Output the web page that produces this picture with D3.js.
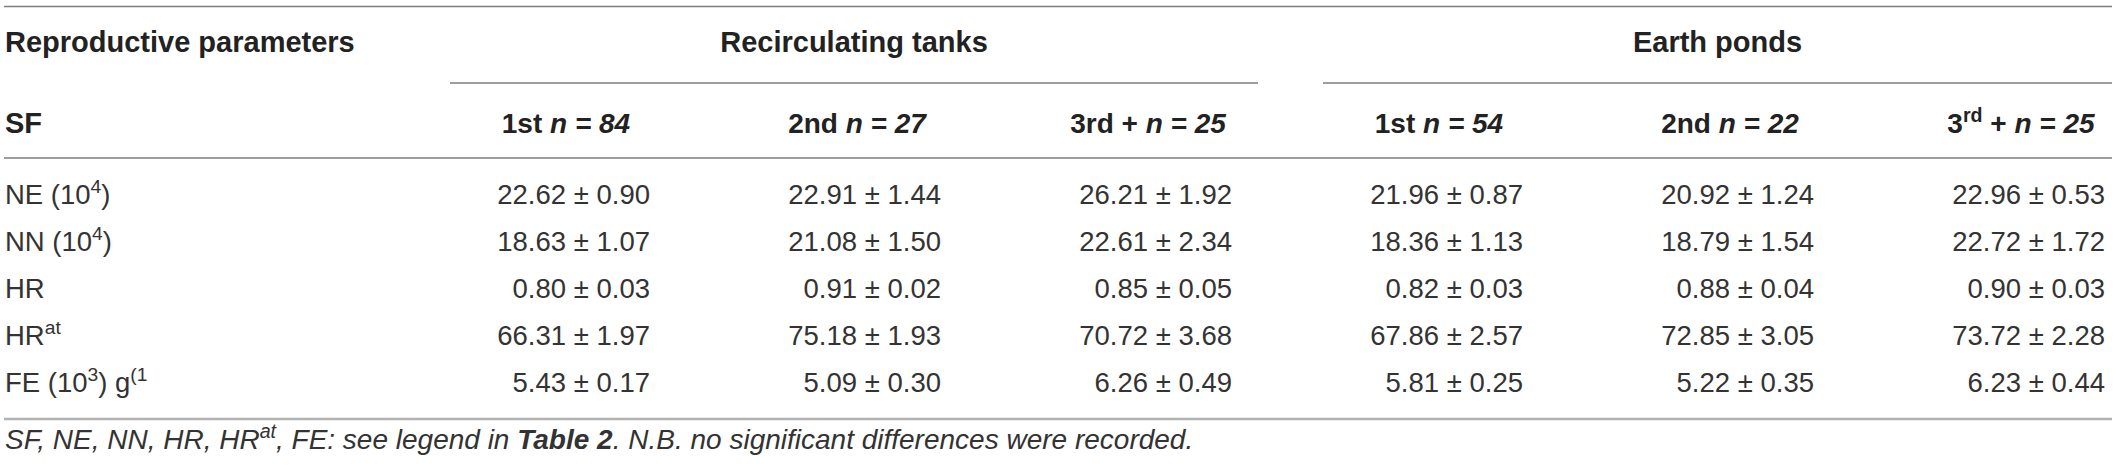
<!DOCTYPE html>
<html>
<head>
<meta charset="utf-8">
<script src="https://cdn.jsdelivr.net/npm/d3@7"></script>
<style>
  body { margin: 0; background: #fff; }
  text { font-family: "Liberation Sans", Arial, Helvetica, sans-serif; }
</style>
</head>
<body>
<svg id="tbl" width="2117" height="472"></svg>
<script>
// table content
var groups = ["Recirculating tanks", "Earth ponds"];
var colOrder = ["1st", "2nd", "3rd +", "1st", "2nd", "3<sup>rd</sup> +"];
var colN = [84, 27, 25, 54, 22, 25];
var rowLabels = ["NE (10<sup>4</sup>)", "NN (10<sup>4</sup>)", "HR", "HR<sup>at</sup>", "FE (10<sup>3</sup>) g<sup>(1</sup>"];
var meanNE = [22.62, 22.91, 26.21, 21.96, 20.92, 22.96];
var meanNN = [18.63, 21.08, 22.61, 18.36, 18.79, 22.72];
var meanHR = [0.80, 0.91, 0.85, 0.82, 0.88, 0.90];
var meanHRat = [66.31, 75.18, 70.72, 67.86, 72.85, 73.72];
var meanFE = [5.43, 5.09, 6.26, 5.81, 5.22, 6.23];
var seNE = [0.90, 1.44, 1.92, 0.87, 1.24, 0.53];
var seNN = [1.07, 1.50, 2.34, 1.13, 1.54, 1.72];
var seHR = [0.03, 0.02, 0.05, 0.03, 0.04, 0.03];
var seHRat = [1.97, 1.93, 3.68, 2.57, 3.05, 2.28];
var seFE = [0.17, 0.30, 0.49, 0.25, 0.35, 0.44];
var footnote = "SF, NE, NN, HR, HR<sup>at</sup>, FE: see legend in <b>Table 2</b>. N.B. no significant differences were recorded.";

var means = [meanNE, meanNN, meanHR, meanHRat, meanFE];
var ses = [seNE, seNN, seHR, seHRat, seFE];

var svg = d3.select("#tbl");
var left = 4, right = 2112;
var fmt = d3.format(".2f");
var headSize = 29, colSize = 28, bodySize = 27.5, noteSize = 28;

var x = d3.scalePoint().domain(d3.range(colN.length)).range([566, 2021]);
var y = d3.scalePoint().domain(d3.range(rowLabels.length)).range([204, 392]);

// writes a string with <sup>, <i>, <b> pieces into a text element
function rich(text, str, fs) {
    var re = /<(sup|i|b)>(.*?)<\/\1>/g;
    var pieces = [], last = 0, m;
    while ((m = re.exec(str)) !== null) {
        if (m.index > last) pieces.push({ kind: null, t: str.slice(last, m.index) });
        pieces.push({ kind: m[1], t: m[2] });
        last = re.lastIndex;
    }
    if (last < str.length) pieces.push({ kind: null, t: str.slice(last) });

    var raised = false;
    pieces.forEach(function(p) {
        var ts = text.append("tspan").text(p.t);
        if (p.kind == "sup") {
            ts.attr("dy", -0.4 * fs).style("font-size", (fs * 0.7) + "px");
            raised = true;
        } else if (raised) {
            ts.attr("dy", 0.4 * fs);
            raised = false;
        }
        if (p.kind == "i") ts.style("font-style", "italic");
        if (p.kind == "b") ts.style("font-weight", "bold");
    });
}

// rules
function rule(x1, x2, yy, col, w) {
    svg.append("line")
    .attr("x1", x1).attr("x2", x2)
    .attr("y1", yy).attr("y2", yy)
    .attr("stroke", col)
    .attr("stroke-width", w);
}
rule(left, right, 6.5, "#7d7d7d", 1.6);
rule(left, right, 158, "#7d7d7d", 1.6);
rule(left, right, 419, "#b2b2b2", 2.6);

// group headers and their underlines
groups.forEach(function(g, gi) {
    var x1 = x(gi * 3) - 116;
    var x2 = Math.min(x(gi * 3 + 2) + 110, right);
    rule(x1, x2, 83, "#7d7d7d", 1.6);
    svg.append("text")
    .attr("x", (x1 + x2) / 2)
    .attr("y", 52)
    .attr("text-anchor", "middle")
    .attr("font-size", headSize + "px")
    .attr("font-weight", "bold")
    .attr("fill", "#222")
    .text(g);
});

svg.append("text")
.attr("x", 5).attr("y", 52)
.attr("font-size", headSize + "px").attr("font-weight", "bold").attr("fill", "#222")
.text("Reproductive parameters");

svg.append("text")
.attr("x", 5).attr("y", 133)
.attr("font-size", headSize + "px").attr("font-weight", "bold").attr("fill", "#222")
.text("SF");

// column headers
svg.selectAll("text.colhead")
.data(colOrder)
.enter().append("text")
.attr("class", "colhead")
.attr("x", function(d, i) { return x(i); })
.attr("y", 133)
.attr("text-anchor", "middle")
.attr("font-size", colSize + "px")
.attr("font-weight", "bold")
.attr("fill", "#222")
.each(function(d, i) {
    rich(d3.select(this), d + " <i>n = " + colN[i] + "</i>", colSize);
});

// row labels
svg.selectAll("text.rowlab")
.data(rowLabels)
.enter().append("text")
.attr("class", "rowlab")
.attr("x", 5)
.attr("y", function(d, i) { return y(i); })
.attr("font-size", bodySize + "px")
.attr("fill", "#333")
.each(function(d) { rich(d3.select(this), d, bodySize); });

// cells
var cells = [];
means.forEach(function(row, r) {
    row.forEach(function(v, c) {
        cells.push({ r: r, c: c, m: v, s: ses[r][c] });
    });
});

svg.selectAll("text.cell")
.data(cells)
.enter().append("text")
.attr("class", "cell")
.attr("x", function(d) { return x(d.c) + 84; })
.attr("y", function(d) { return y(d.r); })
.attr("text-anchor", "end")
.attr("font-size", bodySize + "px")
.attr("fill", "#333")
.text(function(d) { return fmt(d.m) + " \u00b1 " + fmt(d.s); });

// footnote
var fn = svg.append("text")
.attr("x", 5).attr("y", 449)
.attr("font-size", noteSize + "px")
.attr("font-style", "italic")
.attr("fill", "#333");
rich(fn, footnote, noteSize);
</script>
</body>
</html>
